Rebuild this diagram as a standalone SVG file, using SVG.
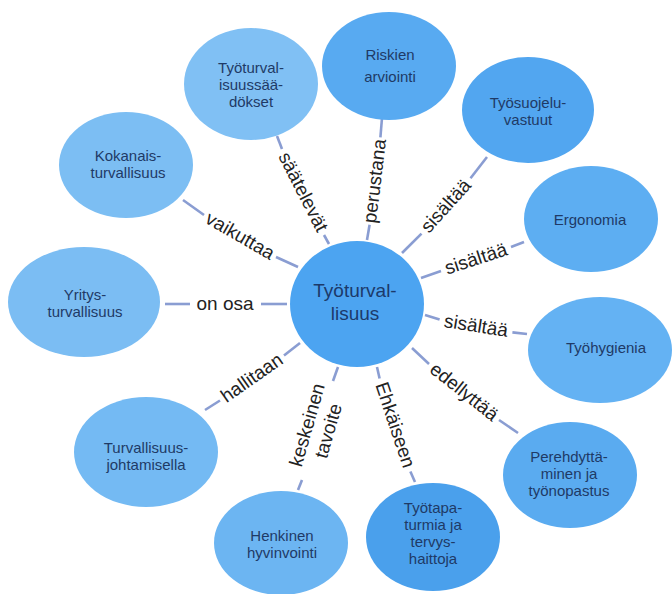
<svg xmlns="http://www.w3.org/2000/svg" width="672" height="594" viewBox="0 0 672 594">
<style>
.nt{font-family:"Liberation Sans",Arial,sans-serif;font-size:15px;fill:#1f3a66;text-anchor:middle}
.ct{font-family:"Liberation Sans",Arial,sans-serif;font-size:19px;fill:#1c3a6a;text-anchor:middle}
.el{font-family:"Liberation Sans",Arial,sans-serif;font-size:19px;fill:#222;text-anchor:middle}
.cn line{stroke:#8a9dd2;stroke-width:2.6;stroke-linecap:butt}
</style>
<rect width="672" height="594" fill="#fff"/>
<g id="connectors" class="cn">
<line x1="329" y1="244" x2="324" y2="235"/><line x1="282" y1="149" x2="277" y2="136"/>
<text class="el" transform="translate(303,192) rotate(63)" dy="6">säätelevät</text>
<line x1="367" y1="240" x2="369.6" y2="224.7"/><line x1="380.4" y1="137.3" x2="382" y2="118"/>
<text class="el" transform="translate(375,181) rotate(-83)" dy="6">perustana</text>
<line x1="402" y1="253" x2="421.5" y2="233.7"/><line x1="470.5" y1="178.3" x2="487" y2="157"/>
<text class="el" transform="translate(446,206) rotate(-48)" dy="6">sisältää</text>
<line x1="421" y1="278" x2="441" y2="271"/><line x1="511" y1="247" x2="524" y2="242"/>
<text class="el" transform="translate(476,259) rotate(-18)" dy="6">sisältää</text>
<line x1="425" y1="315" x2="439.6" y2="319.6"/><line x1="512.4" y1="332.4" x2="527" y2="334"/>
<text class="el" transform="translate(476,326) rotate(9)" dy="6">sisältää</text>
<line x1="412" y1="348" x2="429" y2="364"/><line x1="499" y1="420" x2="518" y2="433"/>
<text class="el" transform="translate(464,392) rotate(38.5)" dy="6">edellyttää</text>
<line x1="377" y1="367" x2="379.6" y2="378.5"/><line x1="410.4" y1="471.5" x2="415" y2="482"/>
<text class="el" transform="translate(395,425) rotate(71.5)" dy="6">Ehkäiseen</text>
<line x1="338" y1="367" x2="333" y2="381"/><line x1="302" y1="480" x2="298" y2="490"/>
<text class="el" transform="translate(318,428) rotate(-74)"><tspan x="0" y="-5">keskeinen</tspan><tspan x="0" y="17">tavoite</tspan></text>
<line x1="300" y1="343" x2="284" y2="355.5"/><line x1="220" y1="400.5" x2="205" y2="410"/>
<text class="el" transform="translate(252,378) rotate(-35)" dy="6">hallitaan</text>
<line x1="287" y1="304" x2="261" y2="304"/><line x1="190" y1="304" x2="165" y2="304"/>
<text class="el" x="225" y="310">on osa</text>
<line x1="298" y1="267" x2="276" y2="257"/><line x1="204" y1="215" x2="183" y2="200"/>
<text class="el" transform="translate(240,236) rotate(30)" dy="6">vaikuttaa</text>
</g>
<g id="n_center"><ellipse cx="357" cy="304" rx="67" ry="63" fill="#4ca4f1"/>
<text class="ct"><tspan x="355" y="297">Työturval-</tspan><tspan x="355" y="320">lisuus</tspan></text></g>
<g id="n_saadokset"><ellipse cx="251" cy="84" rx="67" ry="56" fill="#80c0f4"/>
<text class="nt"><tspan x="251" y="73">Työturval-</tspan><tspan x="251" y="90">isuussää-</tspan><tspan x="251" y="107">dökset</tspan></text></g>
<g id="n_riskien"><ellipse cx="389" cy="66" rx="67" ry="54" fill="#58aaf1"/>
<text class="nt"><tspan x="390" y="60">Riskien</tspan><tspan x="390" y="82">arviointi</tspan></text></g>
<g id="n_tyosuojelu"><ellipse cx="528" cy="110" rx="66" ry="53" fill="#52a6f0"/>
<text class="nt"><tspan x="528" y="108">Työsuojelu-</tspan><tspan x="528" y="125">vastuut</tspan></text></g>
<g id="n_ergonomia"><ellipse cx="591" cy="219" rx="67" ry="53" fill="#5daef2"/>
<text class="nt" x="590" y="225">Ergonomia</text></g>
<g id="n_tyohygienia"><ellipse cx="600" cy="350" rx="72" ry="53" fill="#64b2f3"/>
<text class="nt" x="606" y="353">Työhygienia</text></g>
<g id="n_perehdytta"><ellipse cx="570" cy="475" rx="67" ry="53" fill="#5aabf0"/>
<text class="nt"><tspan x="569" y="462">Perehdyttä-</tspan><tspan x="569" y="479">minen ja</tspan><tspan x="569" y="496">työnopastus</tspan></text></g>
<g id="n_tyotapa"><ellipse cx="433" cy="537" rx="67" ry="54" fill="#4aa0ec"/>
<text class="nt"><tspan x="433" y="513">Työtapa-</tspan><tspan x="433" y="530">turmia ja</tspan><tspan x="433" y="547">tervys-</tspan><tspan x="433" y="564">haittoja</tspan></text></g>
<g id="n_henkinen"><ellipse cx="281" cy="543" rx="67" ry="52" fill="#6cb5f2"/>
<text class="nt"><tspan x="282" y="541">Henkinen</tspan><tspan x="282" y="558">hyvinvointi</tspan></text></g>
<g id="n_johtamisella"><ellipse cx="146" cy="452" rx="72" ry="55" fill="#74baf3"/>
<text class="nt"><tspan x="146" y="453">Turvallisuus-</tspan><tspan x="146" y="470">johtamisella</tspan></text></g>
<g id="n_yritys"><ellipse cx="84" cy="302" rx="76" ry="55" fill="#7bbdf3"/>
<text class="nt"><tspan x="85" y="300">Yritys-</tspan><tspan x="85" y="317">turvallisuus</tspan></text></g>
<g id="n_kokanais"><ellipse cx="126" cy="165" rx="67" ry="53" fill="#7cbef3"/>
<text class="nt"><tspan x="128" y="161">Kokanais-</tspan><tspan x="128" y="178">turvallisuus</tspan></text></g>
</svg>
